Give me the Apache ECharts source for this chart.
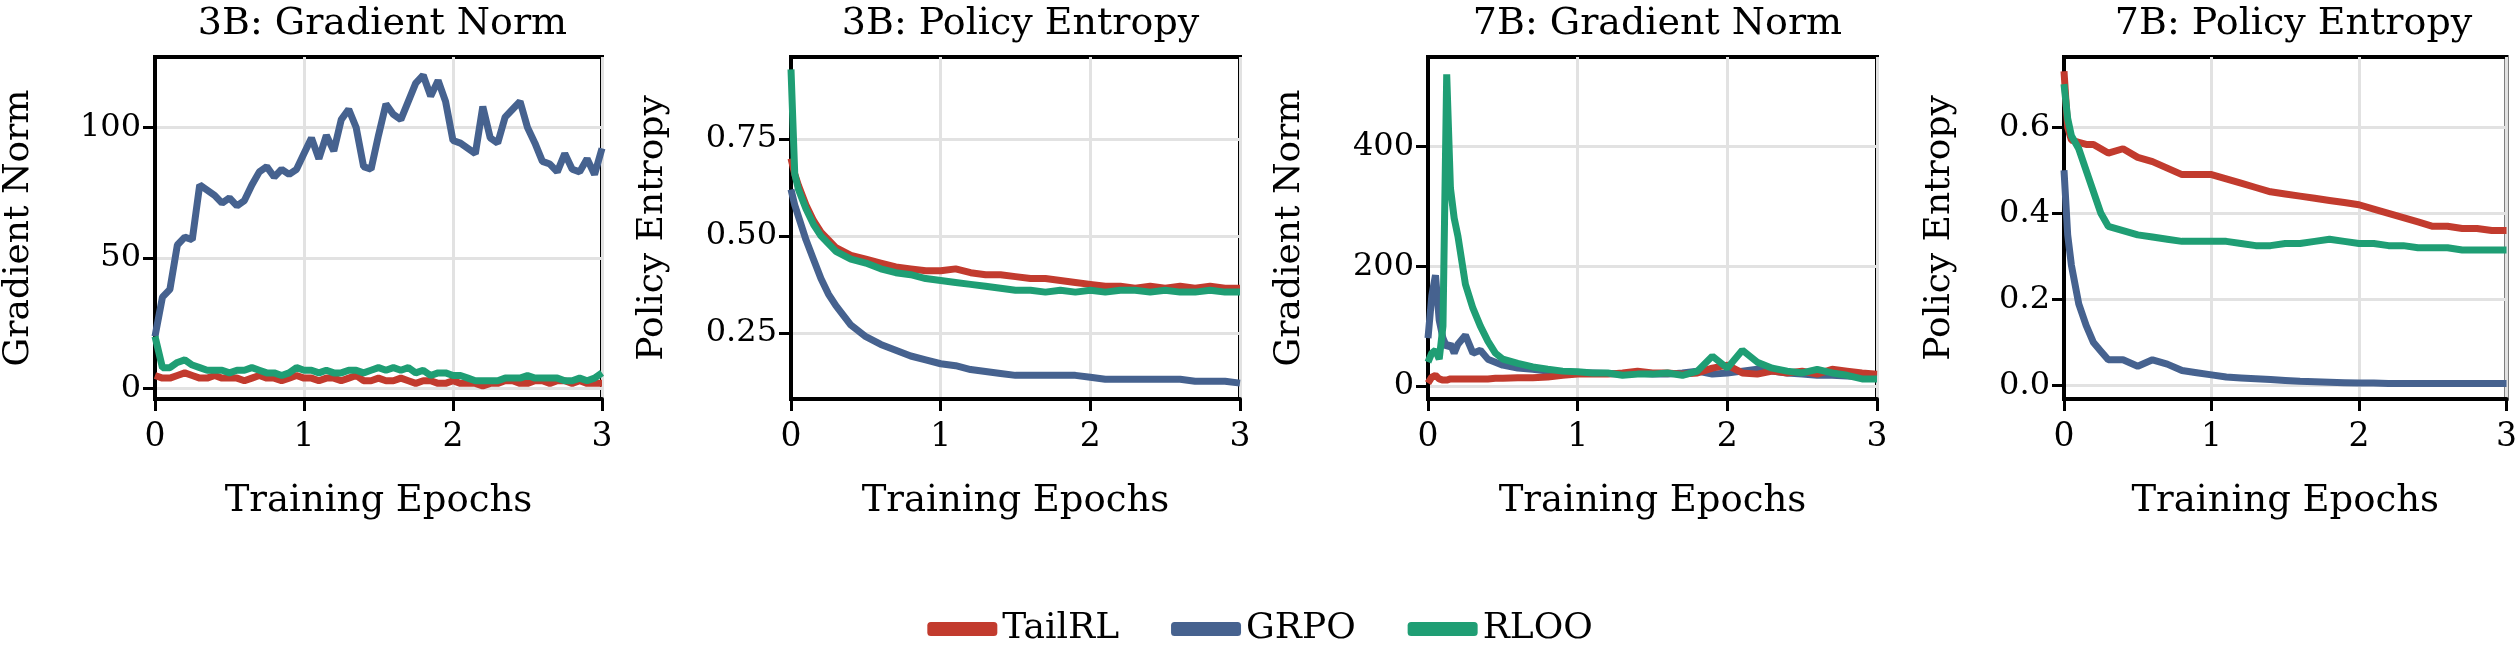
<!DOCTYPE html>
<html>
<head>
<meta charset="UTF-8">
<script src="https://cdn.jsdelivr.net/npm/echarts@6/dist/echarts.min.js"></script>
<style>body{margin:0;background:#fff}</style>
</head>
<body>
<div id="chart" style="width:2520px;height:668px"></div>
<script>
// x positions (training epochs)
var EPOCHS_3B = [];
for (var i = 0; i <= 60; i++) EPOCHS_3B.push(+(i * 0.05).toFixed(2));
var EPOCHS_ENT = [0,0.025,0.05,0.1,0.15,0.2,0.25,0.3,0.4,0.5,0.6,0.7,0.8,0.9,1.0,1.1,1.2,1.3,1.4,1.5,1.6,1.7,1.8,1.9,2.0,2.1,2.2,2.3,2.4,2.5,2.6,2.7,2.8,2.9,3.0];
var EPOCHS_7B_GN = [0,0.025,0.05,0.075,0.1,0.125,0.15,0.175,0.2,0.25,0.3,0.35,0.4,0.45,0.5,0.6,0.7,0.8,0.9,1.0,1.1,1.2,1.3,1.4,1.5,1.6,1.7,1.8,1.9,2.0,2.1,2.2,2.3,2.4,2.5,2.6,2.7,2.8,2.9,3.0];

// 3B gradient norm
var gn3_tail = [5,4,4,5,6,5,4,4,5,4,4,4,3,4,5,4,4,3,4,5,4,4,3,4,4,3,4,5,3,3,4,3,3,4,3,2,3,3,2,2,3,2,2,2,1,2,2,3,3,2,2,3,3,2,3,3,2,3,2,2,2];
var gn3_grpo = [20,35,38,55,58,57,78,76,74,71,73,70,72,78,83,85,81,84,82,84,90,96,88,97,91,103,107,100,85,84,97,109,105,103,110,117,120,112,118,110,95,94,92,90,108,96,94,104,107,110,100,94,87,86,83,90,84,83,88,82,92];
var gn3_rloo = [20,8,8,10,11,9,8,7,7,7,6,7,7,8,7,6,6,5,6,8,7,7,6,7,6,6,7,7,6,7,8,7,8,7,8,6,7,5,6,6,5,5,4,3,3,3,3,4,4,4,5,4,4,4,4,3,3,4,3,4,6];

// 3B policy entropy
var pe3_tail = [0.70,0.66,0.63,0.58,0.54,0.51,0.49,0.47,0.45,0.44,0.43,0.42,0.415,0.41,0.41,0.415,0.405,0.40,0.40,0.395,0.39,0.39,0.385,0.38,0.375,0.37,0.37,0.365,0.37,0.365,0.37,0.365,0.37,0.365,0.365];
var pe3_grpo = [0.62,0.58,0.55,0.49,0.44,0.39,0.35,0.32,0.27,0.24,0.22,0.205,0.19,0.18,0.17,0.165,0.155,0.15,0.145,0.14,0.14,0.14,0.14,0.14,0.135,0.13,0.13,0.13,0.13,0.13,0.13,0.125,0.125,0.125,0.12];
var pe3_rloo = [0.93,0.66,0.62,0.57,0.53,0.50,0.48,0.46,0.44,0.43,0.415,0.405,0.40,0.39,0.385,0.38,0.375,0.37,0.365,0.36,0.36,0.355,0.36,0.355,0.36,0.355,0.36,0.36,0.355,0.36,0.355,0.355,0.36,0.355,0.355];

// 7B gradient norm
var gn7_tail = [5,15,18,12,10,10,12,12,12,12,12,12,12,13,13,14,14,15,18,20,20,20,22,25,22,22,20,22,30,35,22,20,25,22,25,20,28,25,22,20];
var gn7_grpo = [80,150,185,110,80,65,70,55,70,85,55,60,45,40,35,30,28,25,24,22,22,21,20,22,20,20,22,25,20,22,25,28,25,22,20,18,18,17,16,15];
var gn7_rloo = [40,55,60,45,100,520,330,280,250,170,130,100,75,55,45,38,32,28,25,24,22,22,18,20,20,22,18,25,50,30,60,40,30,25,22,28,22,18,12,12];

// 7B policy entropy
var pe7_tail = [0.73,0.60,0.57,0.565,0.56,0.56,0.55,0.54,0.55,0.53,0.52,0.505,0.49,0.49,0.49,0.48,0.47,0.46,0.45,0.445,0.44,0.435,0.43,0.425,0.42,0.41,0.40,0.39,0.38,0.37,0.37,0.365,0.365,0.36,0.36];
var pe7_grpo = [0.50,0.35,0.28,0.19,0.14,0.10,0.08,0.06,0.06,0.045,0.06,0.05,0.035,0.03,0.025,0.02,0.018,0.016,0.014,0.012,0.01,0.009,0.008,0.007,0.006,0.006,0.005,0.005,0.005,0.005,0.005,0.005,0.005,0.005,0.005];
var pe7_rloo = [0.70,0.62,0.58,0.55,0.50,0.45,0.40,0.37,0.36,0.35,0.345,0.34,0.335,0.335,0.335,0.335,0.33,0.325,0.325,0.33,0.33,0.335,0.34,0.335,0.33,0.33,0.325,0.325,0.32,0.32,0.32,0.315,0.315,0.315,0.315];

var NAMES = ['TailRL', 'GRPO', 'RLOO'];
var COLORS = ['#c23b2e', '#46628f', '#1f9e74'];
var FONT = 'DejaVu Serif';

var panels = [
    { title: '3B: Gradient Norm', ylabel: 'Gradient Norm', x: EPOCHS_3B, data: [gn3_tail, gn3_grpo, gn3_rloo], min: -4, max: 127, interval: 50, left: 153, fmt: null, gap: 118 },
    { title: '3B: Policy Entropy', ylabel: 'Policy Entropy', x: EPOCHS_ENT, data: [pe3_tail, pe3_grpo, pe3_rloo], min: 0.079, max: 0.962, interval: 0.25, left: 791, fmt: 2, gap: 120 },
    { title: '7B: Gradient Norm', ylabel: 'Gradient Norm', x: EPOCHS_7B_GN, data: [gn7_tail, gn7_grpo, gn7_rloo], min: -21.5, max: 549, interval: 200, left: 1428, fmt: null, gap: 120 },
    { title: '7B: Policy Entropy', ylabel: 'Policy Entropy', x: EPOCHS_ENT, data: [pe7_tail, pe7_grpo, pe7_rloo], min: -0.031, max: 0.763, interval: 0.2, left: 2064, fmt: 1, gap: 106 }
];

var W = 449, TOP = 57, H = 342;
var grid = [], xAxis = [], yAxis = [], series = [], title = [];

panels.forEach(function (p, k) {
    grid.push({ left: p.left, top: TOP, width: W, height: H, show: true, borderColor: '#000', borderWidth: 4, backgroundColor: 'transparent' });
    title.push({ text: p.title, left: p.left + W / 2, top: 0, textAlign: 'center', textStyle: { fontFamily: FONT, fontSize: 38, fontWeight: 'normal', color: '#000' } });
    xAxis.push({
        type: 'value', gridIndex: k, min: 0, max: 3, interval: 1,
        name: 'Training Epochs', nameLocation: 'middle', nameGap: 84,
        nameTextStyle: { fontFamily: FONT, fontSize: 37, color: '#000' },
        axisLine: { show: true, onZero: false, lineStyle: { color: '#000', width: 4 } },
        axisTick: { show: true, length: 12, lineStyle: { color: '#000', width: 3 } },
        axisLabel: { fontFamily: FONT, fontSize: 33, color: '#000', margin: 34 - 12 },
        splitLine: { show: true, lineStyle: { color: '#e2e2e2', width: 3 } }
    });
    // y ticks start at 0, not at the padded min
    var ticks = [];
    for (var v = 0; v <= p.max; v += p.interval) ticks.push(+v.toFixed(4));
    yAxis.push({
        type: 'value', gridIndex: k, min: p.min, max: p.max,
        name: p.ylabel, nameLocation: 'middle', nameGap: p.gap,
        nameTextStyle: { fontFamily: FONT, fontSize: 36, color: '#000' },
        axisLine: { show: true, onZero: false, lineStyle: { color: '#000', width: 4 } },
        axisTick: { show: true, length: 12, lineStyle: { color: '#000', width: 3 }, customValues: ticks },
        axisLabel: {
            fontFamily: FONT, fontSize: 32, color: '#000', margin: 14, customValues: ticks,
            formatter: function (val) { return p.fmt === null ? String(Math.round(val)) : val.toFixed(p.fmt); }
        },
        splitLine: { show: true, lineStyle: { color: '#e2e2e2', width: 3 } }
    });
    p.data.forEach(function (arr, j) {
        series.push({
            name: NAMES[j], type: 'line', xAxisIndex: k, yAxisIndex: k,
            data: arr.map(function (y, i) { return [p.x[i], y]; }),
            showSymbol: false, symbol: 'none', smooth: false,
            lineStyle: { color: COLORS[j], width: 7 }, itemStyle: { color: COLORS[j] },
            z: j === 1 ? 2 : 3
        });
    });
});

var chart = echarts.init(document.getElementById('chart'));
chart.setOption({
    animation: false,
    color: COLORS,
    title: title,
    grid: grid,
    xAxis: xAxis,
    yAxis: yAxis,
    series: series,
    legend: {
        data: NAMES, left: 'center', top: 606, itemWidth: 70, itemHeight: 14, itemGap: 52,
        icon: 'roundRect',
        textStyle: { fontFamily: FONT, fontSize: 36, color: '#000' }
    }
});
</script>
</body>
</html>
